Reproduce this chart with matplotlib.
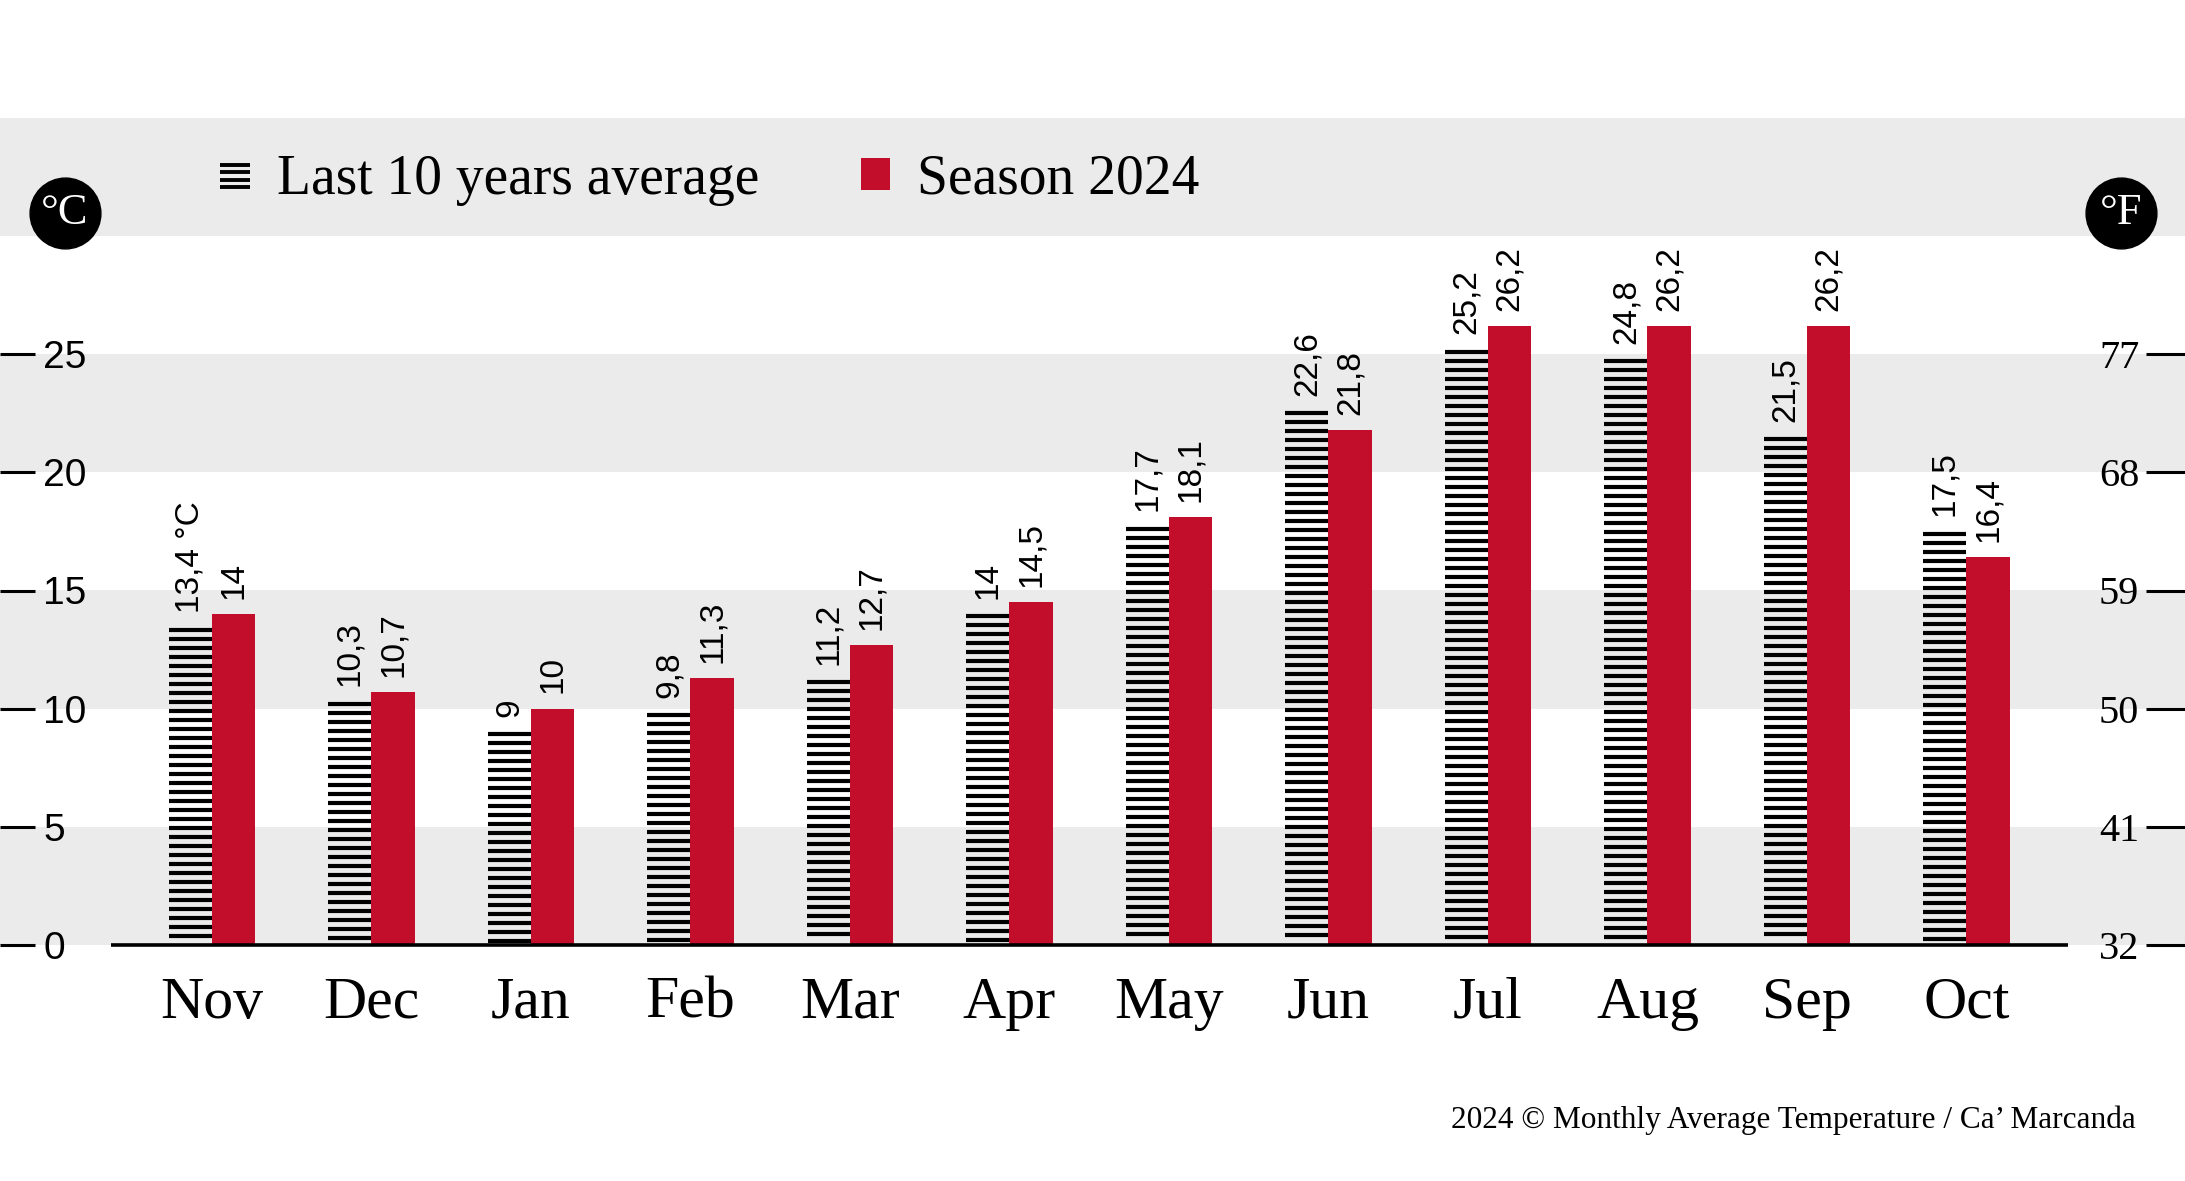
import matplotlib as mpl
mpl.use('Agg')
import matplotlib.pyplot as plt
from matplotlib.path import Path
from matplotlib.lines import Line2D
from matplotlib.patches import Patch
import numpy as np

months = ['Nov', 'Dec', 'Jan', 'Feb', 'Mar', 'Apr', 'May', 'Jun', 'Jul', 'Aug', 'Sep', 'Oct']
avg_10y = [13.4, 10.3, 9, 9.8, 11.2, 14, 17.7, 22.6, 25.2, 24.8, 21.5, 17.5]
season_2024 = [14, 10.7, 10, 11.3, 12.7, 14.5, 18.1, 21.8, 26.2, 26.2, 26.2, 16.4]
c_ticks = [0, 5, 10, 15, 20, 25]
f_ticks = [32, 41, 50, 59, 68, 77]

serif = 'Liberation Serif'
sans = 'Liberation Sans'
red = '#c20e2a'
grey = '#ebebeb'

def fmt(v):
    return ('{:g}'.format(v)).replace('.', ',')

fig = plt.figure(figsize=(21.85, 11.81), dpi=100)
ax = fig.add_axes([0, 0, 1, 1])
ax.set_xlim(-1.329, 12.37)
ax.set_ylim(-10, 40)
for s in ax.spines.values():
    s.set_visible(False)

# grey bands (the top one holds the legend)
for lo in [0, 10, 20, 30]:
    ax.axhspan(lo, lo + 5, color=grey, lw=0, zorder=0)

x = np.arange(len(months))
w = 0.27
step = 0.381   # spacing of the stripes in the "average" bars
# striped bars: horizontal strokes from the top of each bar down to the baseline
for xi, v in zip(x, avg_10y):
    levels = np.arange(v - 0.09, 0.1, -step)
    ax.hlines(levels, xi - w, xi, color='black', lw=3.0, zorder=2)
ax.bar(x + w/2, season_2024, w, color=red, lw=0, zorder=2)
ax.hlines(0, -0.635, len(months) - 1 + 0.635, color='black', lw=2.6, zorder=3)

# value labels
for i, v in enumerate(avg_10y):
    txt = fmt(v) + (' °C' if i == 0 else '')
    ax.annotate(txt, (x[i] - w/2, v), xytext=(0, 11), textcoords='offset points',
                rotation=90, ha='center', va='bottom', fontsize=24, family=sans)
for i, v in enumerate(season_2024):
    ax.annotate(fmt(v), (x[i] + w/2, v), xytext=(0, 11), textcoords='offset points',
                rotation=90, ha='center', va='bottom', fontsize=24, family=sans)

# month labels
for i, m in enumerate(months):
    ax.text(x[i], -2.5, m, ha='center', va='center', fontsize=43, family=serif)

# left axis (°C), ticks inside with labels after them
ax.set_xticks([])
ax.set_yticks(c_ticks, labels=[str(t) for t in c_ticks], ha='left', family=sans)
ax.tick_params(axis='y', direction='in', length=25, width=2.2, pad=-31, labelsize=28)

# right axis (°F)
sec = ax.secondary_yaxis('right', functions=(lambda c: c * 9 / 5 + 32, lambda f: (f - 32) * 5 / 9))
sec.set_yticks(f_ticks, labels=[str(t) for t in f_ticks], ha='right', family=serif)
sec.tick_params(axis='y', direction='in', length=28, width=2.2, pad=-33, labelsize=29)
for s in sec.spines.values():
    s.set_visible(False)

# unit badges
for xx, lab in [(0.0297, '°C'), (0.9707, '°F')]:
    ax.scatter([xx], [0.8196], s=2600, color='black', transform=ax.transAxes,
               clip_on=False, zorder=5)
    ax.text(xx, 0.8196, lab, transform=ax.transAxes, ha='center', va='center',
            color='white', fontsize=32, family=serif, zorder=6)

# legend: stripe icon + red square
stripes = Path(np.array([[-1 if k % 2 == 0 else 1, y] for y in (-0.75, -0.25, 0.25, 0.75) for k in (0, 1)]),
               [Path.MOVETO, Path.LINETO] * 4)
h1 = Line2D([], [], ls='none', marker=stripes, markersize=22, mfc='none', mec='black', mew=2.8)
h2 = Patch(color=red, lw=0)
ax.legend([h1, h2], ['Last 10 years average', 'Season 2024'], loc='center left',
          bbox_to_anchor=(0.088, 0.848), ncol=2, frameon=False, borderpad=0,
          handlelength=0.52, handleheight=0.52, handletextpad=0.5, columnspacing=1.83,
          prop={'family': serif, 'size': 40})

fig.text(0.9775, 0.0517, '2024 © Monthly Average Temperature / Ca’ Marcanda',
         ha='right', va='center', fontsize=22.5, family=serif)

fig.savefig('out.png', dpi=100)
